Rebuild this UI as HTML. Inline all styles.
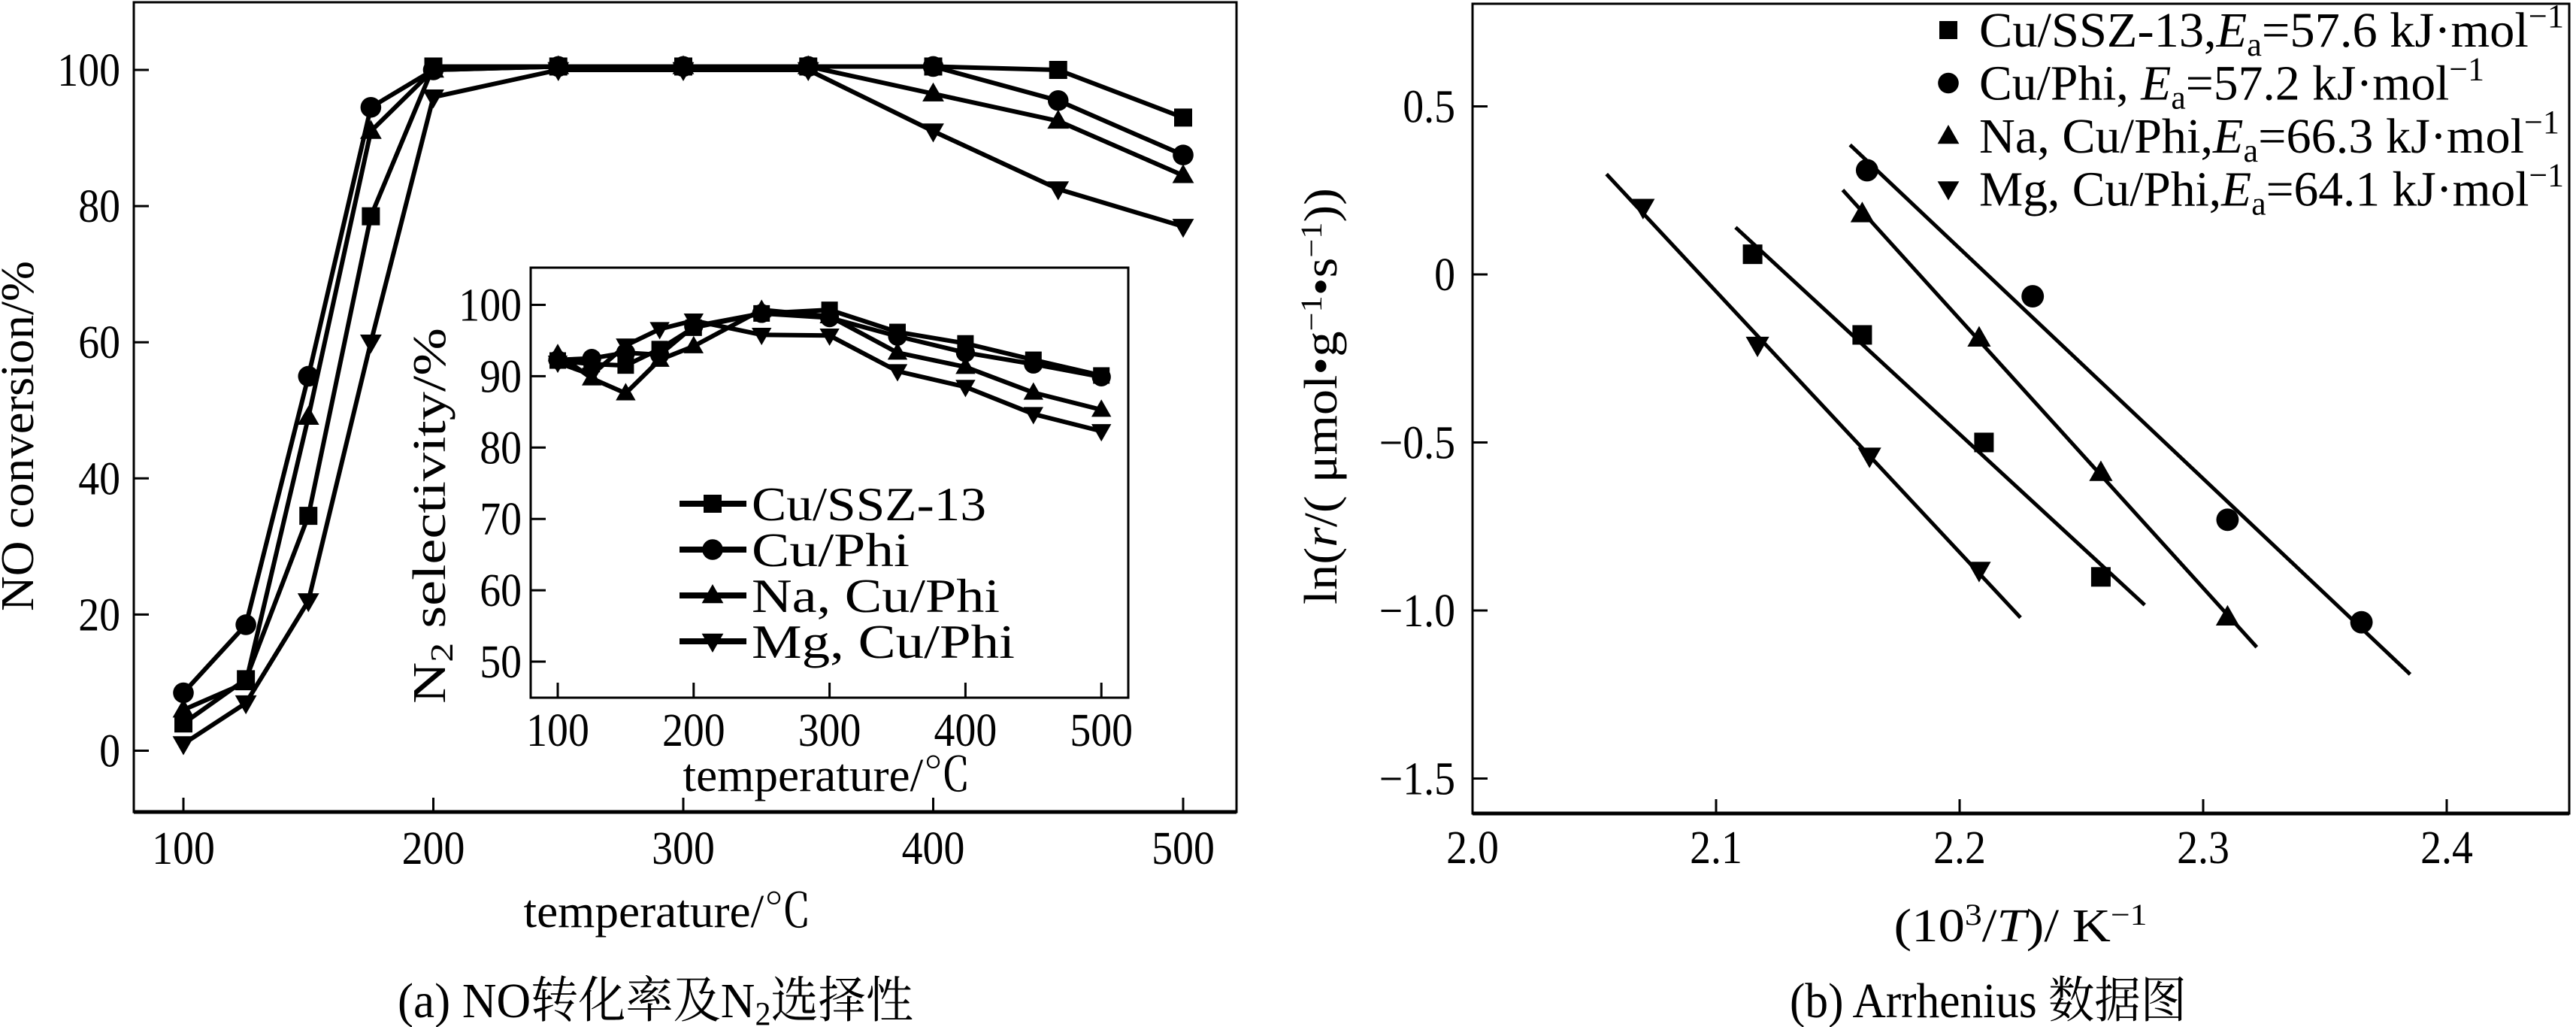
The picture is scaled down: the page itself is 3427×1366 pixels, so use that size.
<!DOCTYPE html>
<html><head><meta charset="utf-8"><style>
html,body{margin:0;padding:0;background:#fff;}
svg{display:block;font-family:"Liberation Serif","Noto Serif CJK SC",serif;}
</style></head><body>
<svg id="c" width="3427" height="1366" viewBox="0 0 3427 1366" xmlns="http://www.w3.org/2000/svg">
<rect width="3427" height="1366" fill="#fff"/>
<g id="ga"></g>
<g id="gi"></g>
<g id="gb"></g>
</svg>
<script>
// ---- Panel (a) main data ----
const convTemps = [100,125,150,175,200,250,300,350,400,450,500];
const convSSZ = [4,10.5,34.5,78.5,100.5,100.5,100.5,100.5,100.5,100,93];
const convPhi = [8.5,18.5,55,94.5,100,100.5,100.5,100.5,100.5,95.5,87.5];
const convNa  = [6,10,49,91,100,100.5,100.5,100.5,96.5,92.5,84.5];
const convMg  = [1,7,22,60,96,100,100,100,91,82.5,77];
const convXTicks = [100,200,300,400,500];
const convYTicks = [0,20,40,60,80,100];
// ---- Panel (a) inset data ----
const selTemps = [100,125,150,175,200,250,300,350,400,450,500];
const selSSZ = [92.2,91.7,91.5,93.8,96.8,98.8,99.3,96.2,94.6,92.3,90.1];
const selPhi = [92.3,92.5,93.3,93,97,98.8,98.2,95.6,93.3,91.7,89.9];
const selNa  = [93.1,89.7,87.6,92.3,94.2,99.3,98.4,93.3,91.3,87.7,85.3];
const selMg  = [91.9,90.2,94.3,96.6,97.8,95.8,95.7,90.7,88.5,84.7,82.3];
const selXTicks = [100,200,300,400,500];
const selYTicks = [50,60,70,80,90,100];
const seriesNames = ["Cu/SSZ-13","Cu/Phi","Na, Cu/Phi","Mg, Cu/Phi"];
// ---- Panel (b) Arrhenius data ----
const arrSSZx = [2.115,2.16,2.21,2.258];
const arrSSZy = [0.06,-0.18,-0.5,-0.9];
const arrPhix = [2.162,2.23,2.31,2.365];
const arrPhiy = [0.31,-0.065,-0.73,-1.035];
const arrNax = [2.16,2.208,2.258,2.31];
const arrNay = [0.18,-0.19,-0.59,-1.02];
const arrMgx = [2.07,2.117,2.163,2.208];
const arrMgy = [0.2,-0.21,-0.54,-0.88];
const fitStartX = [2.108,2.155,2.152,2.055];
const fitEndX = [2.276,2.385,2.322,2.225];
const arrXTicks = [2.0,2.1,2.2,2.3,2.4];
const arrYTicks = [0.5,0,-0.5,-1.0,-1.5];
const arrLegend = ["57.6","57.2","66.3","64.1"];

const NS="http://www.w3.org/2000/svg";
function el(parent,tag,attrs){const e=document.createElementNS(NS,tag);for(const k in attrs)e.setAttribute(k,attrs[k]);parent.appendChild(e);return e;}
function txt(parent,x,y,s,size,anchor,sx){
  const t=el(parent,'text',{x:x,y:y,'font-size':size,'text-anchor':anchor||'middle',fill:'#000'});
  t.textContent=s;
  if(sx){const w=t.getComputedTextLength();t.setAttribute('textLength',w*sx);t.setAttribute('lengthAdjust','spacingAndGlyphs');}
  return t;
}
function marker(parent,type,x,y,s){
  let m;
  if(type===0) m=el(parent,'rect',{x:x-s,y:y-s,width:2*s,height:2*s,fill:'#000'});
  else if(type===1) m=el(parent,'circle',{cx:x,cy:y,r:s*1.15,fill:'#000'});
  else if(type===2) m=el(parent,'polygon',{points:`${x},${y-s*1.25} ${x-s*1.2},${y+s*0.85} ${x+s*1.2},${y+s*0.85}`,fill:'#000'});
  else m=el(parent,'polygon',{points:`${x},${y+s*1.25} ${x-s*1.2},${y-s*0.85} ${x+s*1.2},${y-s*0.85}`,fill:'#000'});
  return m;
}
const mnames=['square-marker','circle-marker','triangle-up-marker','triangle-down-marker'];
const snames=['cu-ssz13','cu-phi','na-cu-phi','mg-cu-phi'];

// ===== Panel (a) main =====
(function(){
  const g=document.getElementById('ga');
  const L=178,R=1645,T=3,B=1080;
  const xs=v=>244+(v-100)*3.325, ys=v=>998.5-v*9.055;
  const f=el(g,'rect',{x:L,y:T,width:R-L,height:B-T,fill:'none',stroke:'#000','stroke-width':3});
  
  el(g,'line',{x1:L,y1:B,x2:R,y2:B,stroke:'#000','stroke-width':5});
  convXTicks.forEach(v=>{
    el(g,'line',{x1:xs(v),y1:B,x2:xs(v),y2:B-19,stroke:'#000','stroke-width':3});
    const t=txt(g,xs(v),1149,String(v),62,'middle',0.9);
    
  });
  convYTicks.forEach(v=>{
    el(g,'line',{x1:L,y1:ys(v),x2:L+20,y2:ys(v),stroke:'#000','stroke-width':3});
    const t=txt(g,160,ys(v)+21,String(v),62,'end',0.9);
    
  });
  const xt=txt(g,888,1233,'temperature/℃',62,'middle');
  xt.setAttribute('textLength',383);xt.setAttribute('lengthAdjust','spacingAndGlyphs');
  
  const yt=txt(g,0,0,'NO conversion/%',62,'middle');
  yt.setAttribute('transform','translate(44,580) rotate(-90)');
  yt.setAttribute('textLength',466);yt.setAttribute('lengthAdjust','spacingAndGlyphs');
  
  const cap=el(g,'text',{x:872,y:1353,'font-size':66,'text-anchor':'middle',textLength:686,lengthAdjust:'spacingAndGlyphs'});
  cap.innerHTML='(a) NO转化率及N<tspan font-size="44" dy="10">2</tspan><tspan dy="-10">选择性</tspan>';
  
  [convSSZ,convPhi,convNa,convMg].forEach((arr,i)=>{
    const sg=el(g,'g',{});
    
    const pl=el(sg,'polyline',{points:arr.map((v,j)=>xs(convTemps[j])+','+ys(v)).join(' '),fill:'none',stroke:'#000','stroke-width':6,'stroke-linejoin':'round'});
    
    arr.forEach((v,j)=>{const m=marker(sg,i,xs(convTemps[j]),ys(v),12);
      });
  });
})();

// ===== Panel (a) inset =====
(function(){
  const g=document.getElementById('gi');
  const L=706,R=1501,T=356,B=928;
  const xs=v=>742+(v-100)*1.808, ys=v=>405.5+(100-v)*9.49;
  const f=el(g,'rect',{x:L,y:T,width:R-L,height:B-T,fill:'#fff',stroke:'#000','stroke-width':3});
  
  selXTicks.forEach(v=>{
    el(g,'line',{x1:xs(v),y1:B,x2:xs(v),y2:B-20,stroke:'#000','stroke-width':3});
    const t=txt(g,xs(v),992,String(v),62,'middle',0.9);
    
  });
  selYTicks.forEach(v=>{
    el(g,'line',{x1:L,y1:ys(v),x2:L+20,y2:ys(v),stroke:'#000','stroke-width':3});
    const t=txt(g,694,ys(v)+21,String(v),62,'end',0.9);
    
  });
  const xt=txt(g,1100,1052,'temperature/℃',62,'middle');
  xt.setAttribute('textLength',383);xt.setAttribute('lengthAdjust','spacingAndGlyphs');
  
  const yt=el(g,'text',{'font-size':62,'text-anchor':'middle',transform:'translate(592,686) rotate(-90)',textLength:500,lengthAdjust:'spacingAndGlyphs'});
  yt.innerHTML='N<tspan font-size="42" dy="10">2</tspan><tspan dy="-10"> selectivity/%</tspan>';
  
  [selSSZ,selPhi,selNa,selMg].forEach((arr,i)=>{
    const sg=el(g,'g',{});
    
    const pl=el(sg,'polyline',{points:arr.map((v,j)=>xs(selTemps[j])+','+ys(v)).join(' '),fill:'none',stroke:'#000','stroke-width':6,'stroke-linejoin':'round'});
    
    arr.forEach((v,j)=>{const m=marker(sg,i,xs(selTemps[j]),ys(v),11);
      });
  });
  const lw=[312,210,330,350];
  seriesNames.forEach((n,i)=>{
    const y=670+i*61;
    const lg=el(g,'g',{});
    
    el(lg,'line',{x1:904,y1:y,x2:993,y2:y,stroke:'#000','stroke-width':8});
    marker(lg,i,948,y,12);
    const t=txt(lg,1000,y+22,n,64,'start');
    t.setAttribute('textLength',lw[i]);t.setAttribute('lengthAdjust','spacingAndGlyphs');
  });
})();

// ===== Panel (b) =====
(function(){
  const g=document.getElementById('gb');
  const L=1959,R=3418,T=5,B=1082;
  const xs=v=>1959+(v-2.0)*3240, ys=v=>365-v*447;
  const f=el(g,'rect',{x:L,y:T,width:R-L,height:B-T,fill:'none',stroke:'#000','stroke-width':3});
  
  el(g,'line',{x1:L,y1:B,x2:R,y2:B,stroke:'#000','stroke-width':5});
  arrXTicks.forEach(v=>{
    el(g,'line',{x1:xs(v),y1:B,x2:xs(v),y2:B-19,stroke:'#000','stroke-width':3});
    const t=txt(g,xs(v),1148,v.toFixed(1),62,'middle',0.9);
    
  });
  arrYTicks.forEach(v=>{
    el(g,'line',{x1:L,y1:ys(v),x2:L+20,y2:ys(v),stroke:'#000','stroke-width':3});
    const s=v===0?'0':(v<0?'−':'')+Math.abs(v).toFixed(1);
    const t=txt(g,1936,ys(v)+21,s,62,'end',0.9);
    
  });
  const xt=el(g,'text',{x:2688,y:1252,'font-size':62,'text-anchor':'middle',textLength:337,lengthAdjust:'spacingAndGlyphs'});
  xt.innerHTML='(10<tspan font-size="40" dy="-22">3</tspan><tspan dy="22">/</tspan><tspan font-style="italic">T</tspan>)/ K<tspan font-size="40" dy="-22">−1</tspan>';
  
  const yt=el(g,'text',{'font-size':62,'text-anchor':'middle',transform:'translate(1778,527) rotate(-90)',textLength:554,lengthAdjust:'spacingAndGlyphs'});
  yt.innerHTML='ln(<tspan font-style="italic">r</tspan>/( μmol•g<tspan font-size="40" dy="-20">−1</tspan><tspan dy="20">•s</tspan><tspan font-size="40" dy="-20">−1</tspan><tspan dy="20">))</tspan>';
  
  const cap=txt(g,2645,1353,'(b) Arrhenius 数据图',66,'middle');
  cap.setAttribute('textLength',528);cap.setAttribute('lengthAdjust','spacingAndGlyphs');
  
  const X=[arrSSZx,arrPhix,arrNax,arrMgx], Y=[arrSSZy,arrPhiy,arrNay,arrMgy];
  X.forEach((xa,i)=>{
    const ya=Y[i];const n=xa.length;
    const mx=xa.reduce((a,b)=>a+b)/n,my=ya.reduce((a,b)=>a+b)/n;
    let sxy=0,sxx=0;xa.forEach((x,j)=>{sxy+=(x-mx)*(ya[j]-my);sxx+=(x-mx)*(x-mx);});
    const k=sxy/sxx,b=my-k*mx;
    const sg=el(g,'g',{});
    
    const ln=el(sg,'line',{x1:xs(fitStartX[i]),y1:ys(k*fitStartX[i]+b),x2:xs(fitEndX[i]),y2:ys(k*fitEndX[i]+b),stroke:'#000','stroke-width':5});
    
    xa.forEach((x,j)=>{const m=marker(sg,i,xs(x),ys(ya[j]),13);
      });
  });
  const pre=['Cu/SSZ-13,','Cu/Phi, ','Na, Cu/Phi,','Mg, Cu/Phi,'];
  const lw=[778,672,772,778];
  pre.forEach((p,i)=>{
    const y=62+i*70.5;
    const lg=el(g,'g',{});
    
    marker(lg,i,2592,y-22,12);
    const t=el(lg,'text',{x:2633,y:y,'font-size':66,textLength:lw[i],lengthAdjust:'spacingAndGlyphs'});
    t.innerHTML=p+'<tspan font-style="italic">E</tspan><tspan font-size="44" dy="12">a</tspan><tspan dy="-12">='+arrLegend[i]+' kJ·mol</tspan><tspan font-size="44" dy="-26">−1</tspan>';
  });
})();
</script>
</body></html>
